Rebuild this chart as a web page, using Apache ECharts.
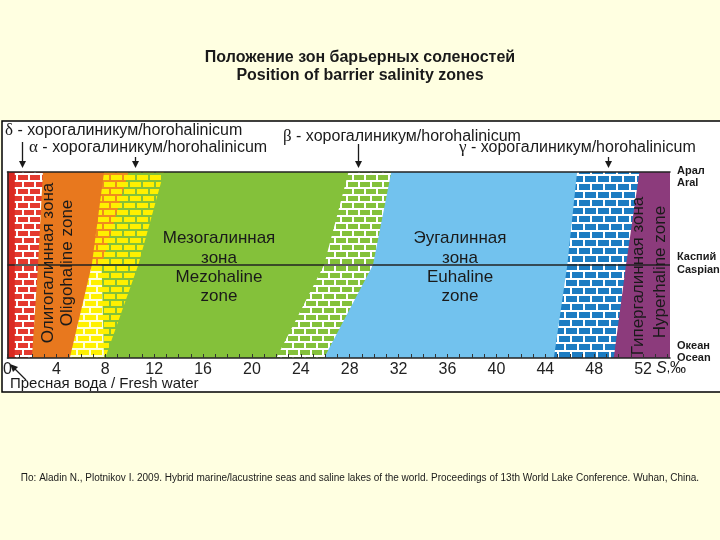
<!DOCTYPE html>
<html><head><meta charset="utf-8">
<script src="https://cdn.jsdelivr.net/npm/echarts@6/dist/echarts.min.js"></script>
<style>html,body{margin:0;padding:0;background:#FFFFE1;}#c{width:720px;height:540px;}</style>
</head><body><div id="c"></div>
<script>
// ---- data ----
const xTickLabels = [0, 4, 8, 12, 16, 20, 24, 28, 32, 36, 40, 44, 48, 52];
const levelNames = ['Океан', 'Каспий', 'Арал'];          // y = 0, 1, 2
const levelNamesEn = ['Ocean', 'Caspian', 'Aral'];
// zone boundaries (salinity, ‰) at the Aral (top), Caspian (middle) and Ocean (bottom) levels
const boundaryAral    = [0, 0.6, 2.9, 7.9, 9.9, 12.8, 27.9, 31.4, 46.6, 51.7, 54.2];
const boundaryCaspian = [0, 0.6, 2.5, 6.9, 7.7, 10.7, 25.9, 29.9, 45.8, 50.6, 54.2];
const boundaryOcean   = [0, 0.6, 2.0, 5.1, 7.9, 8.0, 22.0, 25.9, 44.7, 49.6, 54.2];
// zones: left boundary index, vertical part, fill
const zoneLeft = [0, 1, 2, 3, 3, 4, 5, 6, 7, 8, 9];
const zonePart = ['all', 'all', 'all', 'upper', 'lower', 'all', 'all', 'all', 'all', 'all', 'all'];
const zoneFill = ['redSolid', 'redBrick', 'orange', 'yellowOrange', 'yellowWhite', 'yellowGreen', 'green', 'greenBrick', 'blue', 'blueBrick', 'purple'];
// barrier salinity arrows
const barrierNames = ['δ', 'α', 'β', 'γ'];
const barrierS = [1.2, 10.4, 28.7, 49.1];

// ---- styles ----
function brick(bw, bh, gap, brickColor, mortarColor) {
  const pw = bw + gap, ph = 2 * (bh + gap);
  const c = document.createElement('canvas');
  c.width = pw; c.height = ph;
  const g = c.getContext('2d');
  g.fillStyle = mortarColor; g.fillRect(0, 0, pw, ph);
  g.fillStyle = brickColor;
  g.fillRect(0, 0, bw, bh);
  const off = Math.round(pw / 2);
  g.fillRect(0, bh + gap, off - gap, bh);
  g.fillRect(off, bh + gap, pw - off, bh);
  return { image: c, repeat: 'repeat' };
}
const fills = {
  redSolid: '#DA2A22',
  redBrick: brick(10, 5, 2, '#E43A2F', '#FFFFFF'),
  orange: '#E8781E',
  yellowOrange: brick(11, 5, 2, '#FFF000', '#EF8C1E'),
  yellowWhite: brick(11, 5, 2, '#FFF000', '#FFFFD8'),
  yellowGreen: brick(11, 5, 2, '#FFF000', '#84C13A'),
  green: '#84C13A',
  greenBrick: brick(10, 5, 2, '#84C13A', '#FFFFFF'),
  blue: '#72C2EE',
  blueBrick: brick(11, 6, 2, '#1C7CC2', '#FFFFFF'),
  purple: '#8C3B7C'
};
const arrowLen = [26, 11, 24, 11];
const txt = '#1a1a1a';
const SANS = '"Liberation Sans", Arial, sans-serif';

const chart = echarts.init(document.getElementById('c'), null, { renderer: 'canvas' });
const last = boundaryAral.length - 1;

function zoneItem(params, api) {
  const i = api.value(0);
  const l = zoneLeft[i], part = zonePart[i];
  let pts;
  if (part === 'all') pts = [[boundaryAral[l], 2], [boundaryAral[last], 2], [boundaryCaspian[last], 1], [boundaryOcean[last], 0], [boundaryOcean[l], 0], [boundaryCaspian[l], 1]];
  else if (part === 'upper') pts = [[boundaryAral[l], 2], [boundaryAral[last], 2], [boundaryCaspian[last], 1], [boundaryCaspian[l], 1]];
  else pts = [[boundaryCaspian[l], 1], [boundaryCaspian[last], 1], [boundaryOcean[last], 0], [boundaryOcean[l], 0]];
  return { type: 'polygon', shape: { points: pts.map(p => api.coord(p)) }, style: { fill: fills[zoneFill[i]], stroke: null } };
}
function arrowItem(params, api) {
  const p = api.coord([api.value(0), 2]);
  const i = params.dataIndex;
  const tipY = p[1] - 4, x = Math.round(p[0]) + 0.5;
  return { type: 'group', children: [
    { type: 'line', shape: { x1: x, y1: tipY - arrowLen[i], x2: x, y2: tipY - 5 }, style: { stroke: txt, lineWidth: 1.3 } },
    { type: 'polygon', shape: { points: [[x - 3.5, tipY - 7], [x + 3.5, tipY - 7], [x, tipY]] }, style: { fill: txt } }
  ] };
}

const g = (t, x, y, opt, rot) => ({ type: 'text', z: 100, x, y, rotation: rot || 0, style: Object.assign({ text: t, fill: txt, font: '17px ' + SANS, align: 'center', verticalAlign: 'middle' }, opt || {}) });
const greek = (letter, x, y) => ({ type: 'text', z: 100, x, y, style: { rich: { g: { fontFamily: '"Liberation Serif", "DejaVu Serif", serif', fontSize: 17, fill: txt }, t: { fontFamily: SANS, fontSize: 16, fill: txt } }, text: '{g|' + letter + '}{t| - хорогалиникум/horohalinicum}', verticalAlign: 'middle', align: 'left' } });

const graphics = [
  { type: 'rect', z: -10, shape: { x: 2, y: 121, width: 720, height: 271 }, style: { fill: '#FFFFFF', stroke: '#000', lineWidth: 1.5 } },
  g('Положение зон барьерных соленостей', 360, 58, { font: 'bold 16px ' + SANS }),
  g('Position of barrier salinity zones', 360, 76, { font: 'bold 16px ' + SANS }),
  greek(barrierNames[0], 5, 131),
  greek(barrierNames[1], 29, 148),
  greek(barrierNames[2], 283, 137),
  greek(barrierNames[3], 459, 148),
  g('Олигогалинная зона', 48, 263, null, Math.PI / 2),
  g('Oligohaline zone', 67, 263, null, Math.PI / 2),
  g('Гипергалинная зона', 638, 276, null, Math.PI / 2),
  g('Hyperhaline zone', 660, 272, null, Math.PI / 2),
  g('Мезогалинная', 219, 238), g('зона', 219, 258), g('Mezohaline', 219, 277), g('zone', 219, 296),
  g('Эугалинная', 460, 238), g('зона', 460, 258), g('Euhaline', 460, 277), g('zone', 460, 296),
  g('Пресная вода / Fresh water', 10, 384, { align: 'left', font: '15px ' + SANS }),
  { type: 'text', z: 100, x: 656, y: 369, style: { rich: { i: { fontStyle: 'italic', fontSize: 16, fontFamily: SANS, fill: txt }, n: { fontSize: 16, fontFamily: SANS, fill: txt } }, text: '{i|S},{n|‰}', verticalAlign: 'middle' } },
  { type: 'line', z: 100, shape: { x1: 26, y1: 380, x2: 14, y2: 368 }, style: { stroke: txt, lineWidth: 1.3 } },
  { type: 'polygon', z: 100, shape: { points: [[10, 364], [18, 367], [13, 372]] }, style: { fill: txt } },
  g('По: Aladin N., Plotnikov I. 2009. Hybrid marine/lacustrine seas and saline lakes of the world. Proceedings of 13th World Lake Conference. Wuhan, China.', 360, 478, { font: '10px "Liberation Sans Narrow", "Liberation Sans", Arial, sans-serif' })
];
// level names on the right
const levelY = [[346, 358], [257, 270], [171, 183]];
levelNames.forEach((n, i) => {
  graphics.push(g(n, 677, levelY[i][0], { align: 'left', font: 'bold 11px ' + SANS }));
  graphics.push(g(levelNamesEn[i], 677, levelY[i][1], { align: 'left', font: 'bold 11px ' + SANS }));
});

chart.setOption({
  backgroundColor: '#FFFFE1',
  animation: false,
  grid: { left: 6, right: 50, top: 172, bottom: 182 },
  xAxis: [
    { type: 'value', min: 0, max: 54.2, interval: 1, z: 10,
      axisLine: { show: true, lineStyle: { color: '#222', width: 1.5 } },
      axisTick: { show: true, inside: true, length: 4, lineStyle: { color: '#333' } },
      splitLine: { show: false },
      axisLabel: { margin: 4, color: '#222', fontSize: 16, fontFamily: SANS, showMaxLabel: false,
        formatter: v => xTickLabels.indexOf(v) >= 0 ? String(v) : '' } },
    { type: 'value', position: 'top', min: 0, max: 54.2, z: 10,
      axisLine: { show: true, onZero: false, lineStyle: { color: '#222', width: 1.5 } },
      axisTick: { show: false }, axisLabel: { show: false }, splitLine: { show: false } }
  ],
  yAxis: { type: 'value', min: 0, max: 2, interval: 1, z: 10,
    axisLine: { show: true, lineStyle: { color: '#222', width: 1.5 } },
    axisTick: { show: false }, axisLabel: { show: false }, splitLine: { show: false } },
  series: [
    { type: 'custom', renderItem: zoneItem, data: zoneFill.map((f, i) => [i]), z: 2, silent: true,
      markLine: { silent: true, symbol: 'none', label: { show: false }, lineStyle: { color: '#222', width: 1.5, type: 'solid' }, data: [{ yAxis: 1 }] } },
    { type: 'custom', renderItem: arrowItem, data: barrierS.map(s => [s]), z: 3, silent: true, clip: false }
  ],
  graphic: graphics
});
</script></body></html>
